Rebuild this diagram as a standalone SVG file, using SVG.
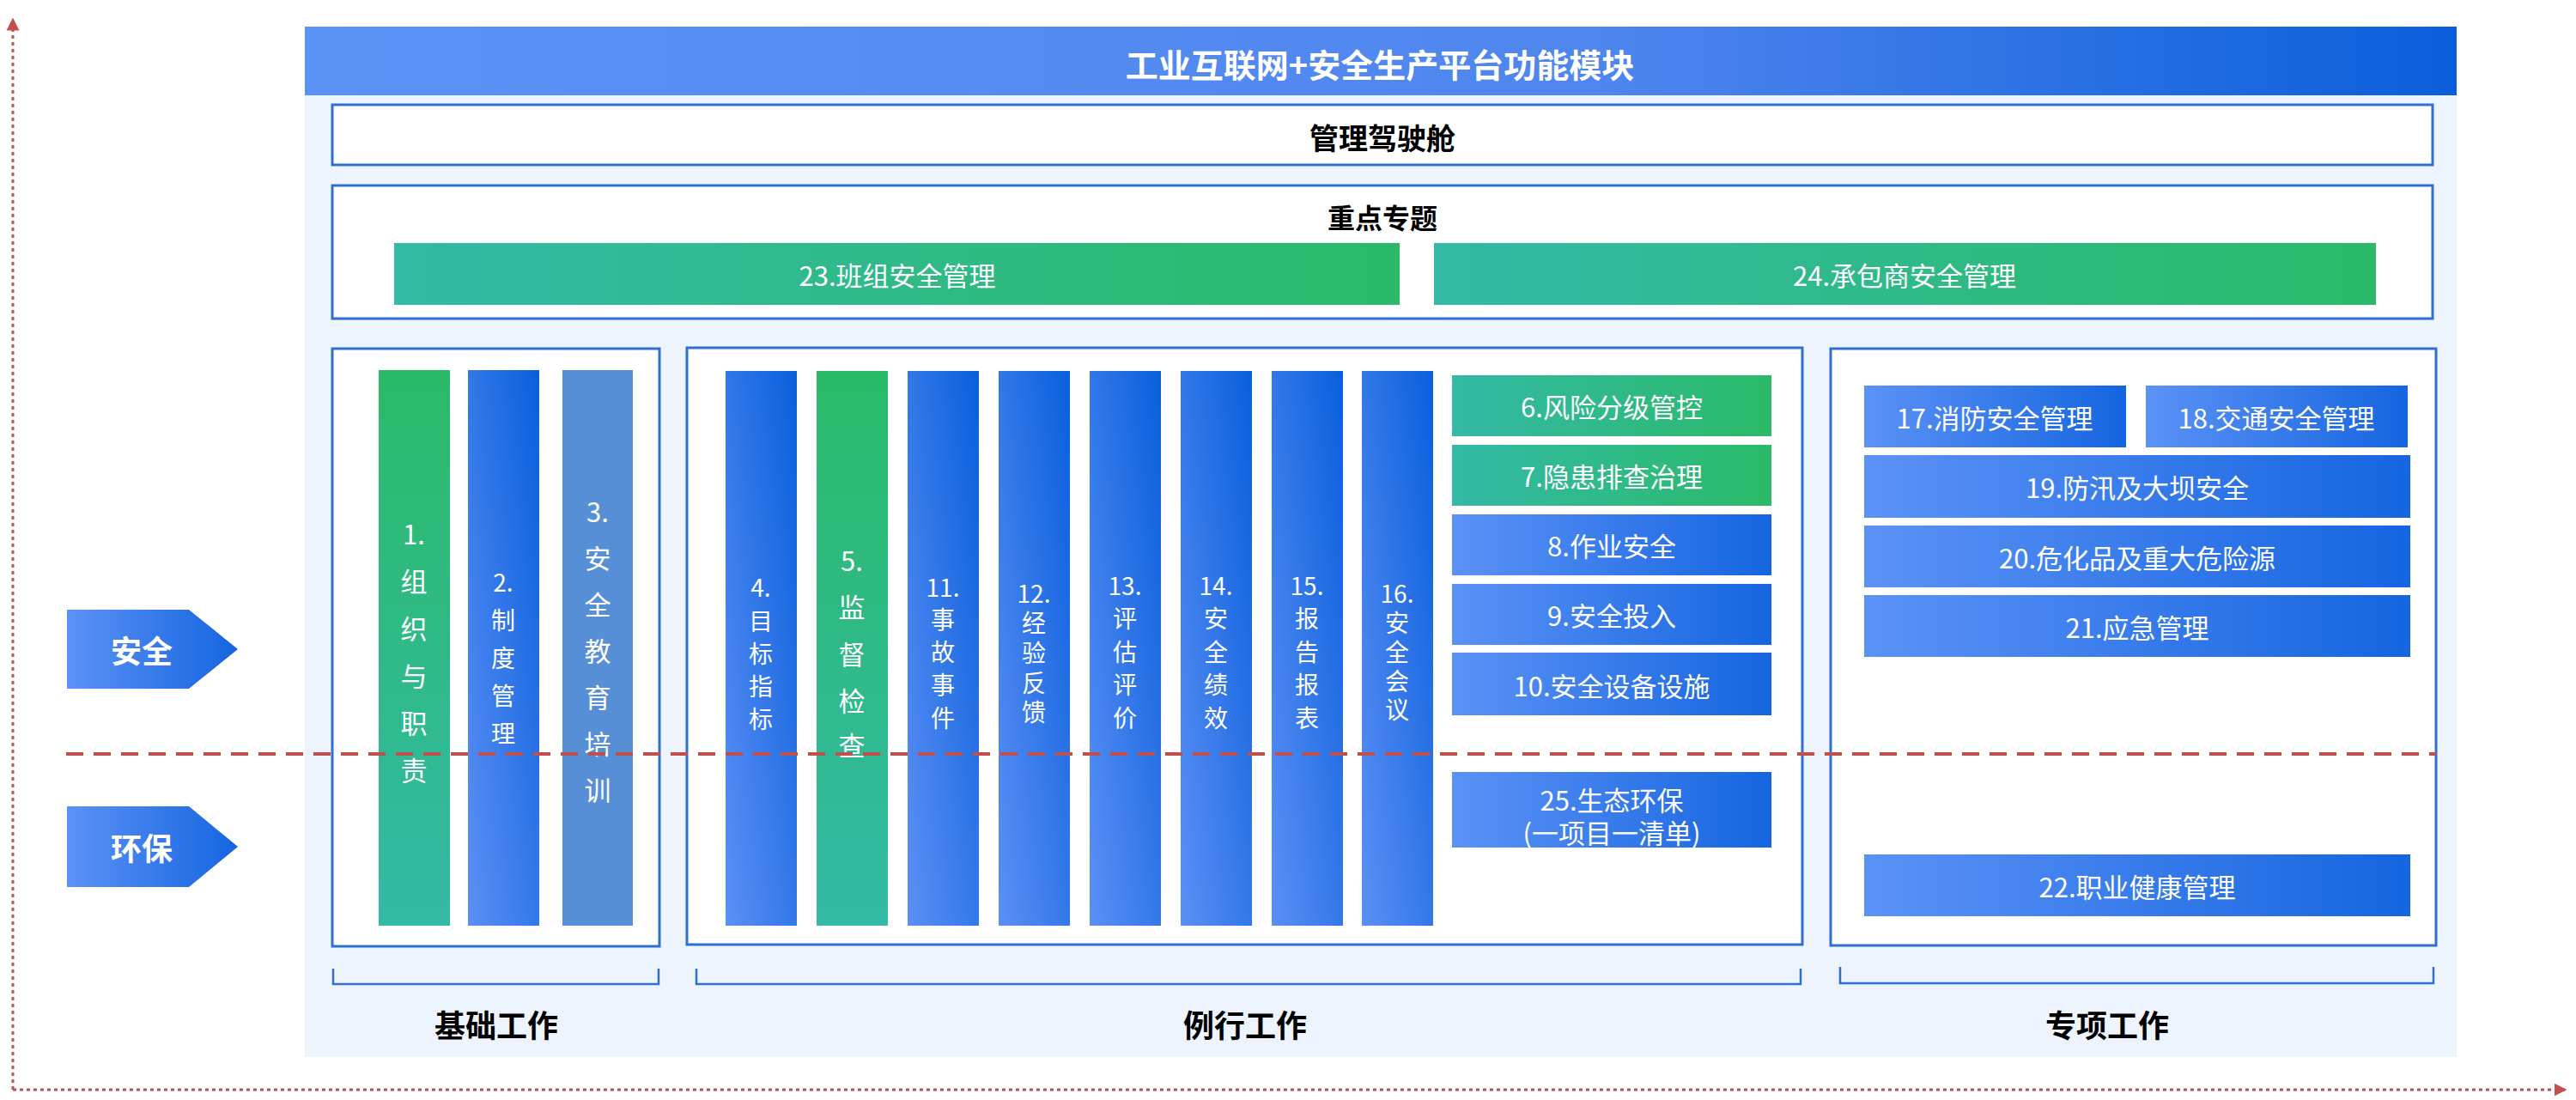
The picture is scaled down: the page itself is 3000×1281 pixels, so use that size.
<svg xmlns="http://www.w3.org/2000/svg" width="3000" height="1281" viewBox="0 0 3000 1281">
<defs>
<linearGradient id="gH" x1="0" y1="0" x2="1" y2="0"><stop offset="0" stop-color="#5b92f6"/><stop offset="0.6" stop-color="#4f86ee"/><stop offset="1" stop-color="#0b5edb"/></linearGradient>
<linearGradient id="gV" x1="1" y1="0" x2="0" y2="1"><stop offset="0" stop-color="#0a5fdc"/><stop offset="1" stop-color="#5b90f5"/></linearGradient>
<linearGradient id="gG" x1="0" y1="0" x2="0" y2="1"><stop offset="0" stop-color="#2bba68"/><stop offset="1" stop-color="#34b9a6"/></linearGradient>
<linearGradient id="gGH" x1="0" y1="0" x2="1" y2="0"><stop offset="0" stop-color="#34b9a6"/><stop offset="1" stop-color="#2bba68"/></linearGradient>
<linearGradient id="gA" x1="0" y1="0" x2="1" y2="0"><stop offset="0" stop-color="#5b92f6"/><stop offset="1" stop-color="#1565e0"/></linearGradient>
<marker id="ah" viewBox="0 0 10 10" refX="9" refY="5" markerWidth="5" markerHeight="5" orient="auto"><path d="M0,0 L10,5 L0,10 z" fill="#c0504d"/></marker>
</defs>
<style>
.f{font-family:"Noto Sans CJK SC","Noto Sans",sans-serif}
.w{fill:#fff;font-size:31px;text-anchor:middle;dominant-baseline:central}
.c{font-size:28px}
.b{fill:#000;font-weight:bold;text-anchor:middle;dominant-baseline:central}
.pan{fill:#fff;stroke:#2f6fd0;stroke-width:3}
.br{fill:none;stroke:#2f6fd0;stroke-width:2.5}
</style>
<rect width="3000" height="1281" fill="#fff"/>
<rect x="355" y="31" width="2506" height="1200" fill="#eef4fd"/>
<g id="title"><rect x="355" y="31" width="2506" height="80" fill="url(#gH)"/><text class="f b" x="1607" y="73" font-size="38" style="fill:#fff">工业互联网+安全生产平台功能模块</text></g>
<g id="cockpit"><rect class="pan" x="387" y="122" width="2446" height="70"/><text class="f b" x="1610" y="159" font-size="34">管理驾驶舱</text></g>
<g id="topics"><rect class="pan" x="387" y="216" width="2446" height="155"/><text class="f b" x="1610" y="252" font-size="32">重点专题</text>
<rect x="459" y="283" width="1171" height="72" fill="url(#gGH)"/><text class="f w" x="1045" y="319">23.班组安全管理</text>
<rect x="1670" y="283" width="1097" height="72" fill="url(#gGH)"/><text class="f w" x="2218" y="319">24.承包商安全管理</text></g>
<g id="left-panel"><rect class="pan" x="387" y="406" width="381" height="696"/>
<rect x="441" y="431" width="83" height="647" fill="url(#gG)"/>
<text class="f w"><tspan x="482" y="620">1.</tspan><tspan x="482" y="675">组</tspan><tspan x="482" y="730">织</tspan><tspan x="482" y="785">与</tspan><tspan x="482" y="840">职</tspan><tspan x="482" y="895">责</tspan></text>
<rect x="545" y="431" width="83" height="647" fill="url(#gV)"/>
<text class="f w c"><tspan x="586" y="677">2.</tspan><tspan x="586" y="721">制</tspan><tspan x="586" y="765">度</tspan><tspan x="586" y="809">管</tspan><tspan x="586" y="853">理</tspan></text>
<rect x="655" y="431" width="82" height="647" fill="#578fd6"/>
<text class="f w"><tspan x="696" y="594">3.</tspan><tspan x="696" y="648">安</tspan><tspan x="696" y="702">全</tspan><tspan x="696" y="756">教</tspan><tspan x="696" y="810">育</tspan><tspan x="696" y="864">培</tspan><tspan x="696" y="918">训</tspan></text>
</g>
<g id="mid-panel"><rect class="pan" x="800" y="405" width="1299" height="695"/>
<rect x="845" y="432" width="83" height="646" fill="url(#gV)"/>
<text class="f w c"><tspan x="886" y="683">4.</tspan><tspan x="886" y="722">目</tspan><tspan x="886" y="760">标</tspan><tspan x="886" y="798">指</tspan><tspan x="886" y="836">标</tspan></text>
<rect x="951" y="432" width="83" height="646" fill="url(#gG)"/>
<text class="f w"><tspan x="992" y="651">5.</tspan><tspan x="992" y="705">监</tspan><tspan x="992" y="760">督</tspan><tspan x="992" y="814">检</tspan><tspan x="992" y="866">查</tspan></text>
<rect x="1057" y="432" width="83" height="646" fill="url(#gV)"/>
<text class="f w c"><tspan x="1098" y="683">11.</tspan><tspan x="1098" y="720">事</tspan><tspan x="1098" y="758">故</tspan><tspan x="1098" y="796">事</tspan><tspan x="1098" y="835">件</tspan></text>
<rect x="1163" y="432" width="83" height="646" fill="url(#gV)"/>
<text class="f w c"><tspan x="1204" y="690">12.</tspan><tspan x="1204" y="724">经</tspan><tspan x="1204" y="759">验</tspan><tspan x="1204" y="794">反</tspan><tspan x="1204" y="828">馈</tspan></text>
<rect x="1269" y="432" width="83" height="646" fill="url(#gV)"/>
<text class="f w c"><tspan x="1310" y="681">13.</tspan><tspan x="1310" y="719">评</tspan><tspan x="1310" y="758">估</tspan><tspan x="1310" y="796">评</tspan><tspan x="1310" y="835">价</tspan></text>
<rect x="1375" y="432" width="83" height="646" fill="url(#gV)"/>
<text class="f w c"><tspan x="1416" y="681">14.</tspan><tspan x="1416" y="719">安</tspan><tspan x="1416" y="758">全</tspan><tspan x="1416" y="796">绩</tspan><tspan x="1416" y="835">效</tspan></text>
<rect x="1481" y="432" width="83" height="646" fill="url(#gV)"/>
<text class="f w c"><tspan x="1522" y="681">15.</tspan><tspan x="1522" y="719">报</tspan><tspan x="1522" y="758">告</tspan><tspan x="1522" y="796">报</tspan><tspan x="1522" y="835">表</tspan></text>
<rect x="1586" y="432" width="83" height="646" fill="url(#gV)"/>
<text class="f w c"><tspan x="1627" y="690">16.</tspan><tspan x="1627" y="724">安</tspan><tspan x="1627" y="758">全</tspan><tspan x="1627" y="792">会</tspan><tspan x="1627" y="825">议</tspan></text>
<rect x="1691" y="437" width="372" height="71" fill="url(#gGH)"/><text class="f w" x="1877" y="472">6.风险分级管控</text>
<rect x="1691" y="518" width="372" height="71" fill="url(#gGH)"/><text class="f w" x="1877" y="553">7.隐患排查治理</text>
<rect x="1691" y="599" width="372" height="71" fill="url(#gA)"/><text class="f w" x="1877" y="634">8.作业安全</text>
<rect x="1691" y="680" width="372" height="71" fill="url(#gA)"/><text class="f w" x="1877" y="715">9.安全投入</text>
<rect x="1691" y="760" width="372" height="73" fill="url(#gA)"/><text class="f w" x="1877" y="797">10.安全设备设施</text>
<rect x="1691" y="899" width="372" height="88" fill="url(#gA)"/><text class="f w" x="1877" y="930">25.生态环保</text><text class="f w" x="1877" y="968">(一项目一清单)</text>
</g>
<g id="right-panel"><rect class="pan" x="2132" y="406" width="705" height="695"/>
<rect x="2171" y="449" width="305" height="72" fill="url(#gA)"/><text class="f w" x="2323" y="485">17.消防安全管理</text>
<rect x="2499" y="449" width="305" height="72" fill="url(#gA)"/><text class="f w" x="2651" y="485">18.交通安全管理</text>
<rect x="2171" y="530" width="636" height="73" fill="url(#gA)"/><text class="f w" x="2489" y="566">19.防汛及大坝安全</text>
<rect x="2171" y="612" width="636" height="72" fill="url(#gA)"/><text class="f w" x="2489" y="648">20.危化品及重大危险源</text>
<rect x="2171" y="693" width="636" height="72" fill="url(#gA)"/><text class="f w" x="2489" y="729">21.应急管理</text>
<rect x="2171" y="995" width="636" height="72" fill="url(#gA)"/><text class="f w" x="2489" y="1031">22.职业健康管理</text>
</g>
<g id="brackets">
<path class="br" d="M388,1128 V1146 H767 V1128"/><text class="f b" x="578" y="1192" font-size="36">基础工作</text>
<path class="br" d="M811,1128 V1146 H2097 V1128"/><text class="f b" x="1450" y="1192" font-size="36">例行工作</text>
<path class="br" d="M2143,1126 V1145 H2834 V1126"/><text class="f b" x="2454" y="1192" font-size="36">专项工作</text>
</g>
<g id="safety"><path d="M78,710 H220 L277,756 L220,802 H78 Z" fill="url(#gA)"/><text class="f b" x="165" y="756" font-size="36" style="fill:#fff">安全</text></g>
<g id="env"><path d="M78,939 H220 L277,986 L220,1033 H78 Z" fill="url(#gA)"/><text class="f b" x="165" y="986" font-size="36" style="fill:#fff">环保</text></g>
<g id="connectors">
<line x1="77" y1="878" x2="2837" y2="878" stroke="#c0504d" stroke-width="4" stroke-dasharray="20,12"/>
<line x1="15" y1="1269" x2="15" y2="22" stroke="#c0504d" stroke-width="3" stroke-dasharray="4,4" marker-end="url(#ah)"/>
<line x1="15" y1="1269" x2="2988" y2="1269" stroke="#c0504d" stroke-width="3" stroke-dasharray="4,4" marker-end="url(#ah)"/>
</g>
</svg>
